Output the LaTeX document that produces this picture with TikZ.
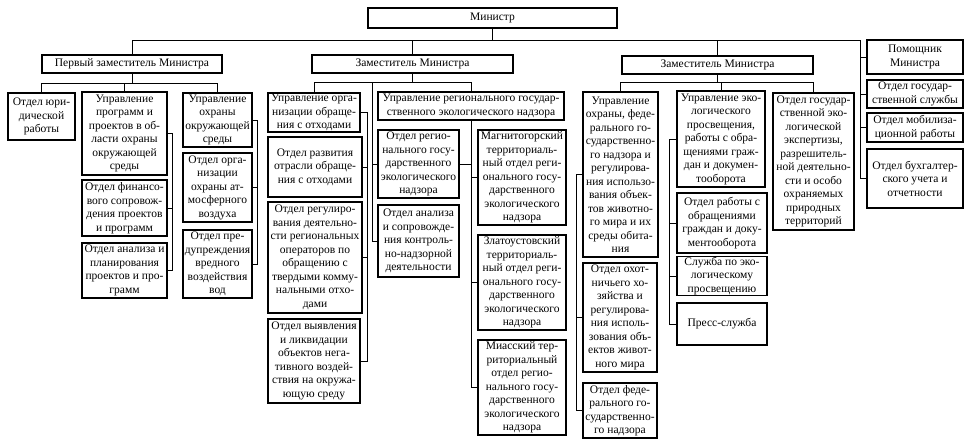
\documentclass[tikz,border=0pt]{standalone}
\usepackage{fontspec}
\setmainfont{Liberation Serif}
\usetikzlibrary{positioning, calc}

% box from its corners (in pixels of the page): name, x1, y1, x2, y2, text
\newcommand{\orgbox}[6]{%
  \node[box, minimum width={(#4-#2)*0.025cm}, minimum height={(#5-#3)*0.025cm}]
    (#1) at ({(#2+#4)/2},{(#3+#5)/2}) {#6};}

\begin{document}
\begin{tikzpicture}[
    x=0.025cm, y=-0.025cm,
    box/.style={rectangle, draw, line width=1pt, inner sep=0.5pt, align=center, font=\fontsize{8.2}{9.6}\selectfont},
    line/.style={line width=0.7pt},
]
\fill[white] (0,0) rectangle (972,446);
\useasboundingbox (0,0) rectangle (972,446);

% top
\orgbox{min}{368}{8}{617}{28}{Министр}
\orgbox{dep1}{42}{55}{222}{73}{Первый заместитель Министра}
\orgbox{dep2}{312}{55}{513}{73}{Заместитель Министра}
\orgbox{dep3}{622}{56}{813}{74}{Заместитель Министра}
\orgbox{asst}{867}{40}{963}{74}{Помощник\\Министра}
\orgbox{civ}{867}{80}{963}{108}{Отдел государ-\\ственной службы}
\orgbox{mob}{867}{113}{963}{142}{Отдел мобилиза-\\ционной работы}
\orgbox{acc}{867}{149}{963}{208}{Отдел бухгалтер-\\ского учета и\\отчетности}

% first deputy
\orgbox{law}{8}{93}{75}{140}{Отдел юри-\\дической\\работы}
\orgbox{prog}{82}{92}{167}{175}{Управление\\программ и\\проектов в об-\\ласти охраны\\окружающей\\среды}
\orgbox{fin}{82}{180}{167}{236}{Отдел финансо-\\вого сопровож-\\дения проектов\\и программ}
\orgbox{plan}{82}{243}{167}{298}{Отдел анализа и\\планирования\\проектов и про-\\грамм}
\orgbox{env}{183}{93}{252}{147}{Управление\\охраны\\окружающей\\среды}
\orgbox{air}{183}{153}{252}{222}{Отдел орга-\\низации\\охраны ат-\\мосферного\\воздуха}
\orgbox{wat}{183}{230}{252}{298}{Отдел пре-\\дупреждения\\вредного\\воздействия\\вод}

% second deputy
\orgbox{waste}{268}{93}{360}{132}{Управление орга-\\низации обраще-\\ния с отходами}
\orgbox{wdev}{268}{137}{362}{197}{Отдел развития\\отрасли обраще-\\ния с отходами}
\orgbox{wreg}{268}{202}{362}{313}{Отдел регулиро-\\вания деятельно-\\сти региональных\\операторов по\\обращению с\\твердыми комму-\\нальными отхо-\\дами}
\orgbox{wneg}{268}{319}{360}{403}{Отдел выявления\\и ликвидации\\объектов нега-\\тивного воздей-\\ствия на окружа-\\ющую среду}
\orgbox{rnad}{378}{92}{564}{120}{Управление регионального государ-\\ственного экологического надзора}
\orgbox{rdep}{378}{130}{459}{198}{Отдел регио-\\нального госу-\\дарственного\\экологического\\надзора}
\orgbox{ranl}{378}{205}{459}{277}{Отдел анализа\\и сопровожде-\\ния контроль-\\но-надзорной\\деятельности}
\orgbox{mgn}{478}{130}{566}{225}{Магнитогорский\\территориаль-\\ный отдел реги-\\онального госу-\\дарственного\\экологического\\надзора}
\orgbox{zlt}{478}{235}{566}{330}{Златоустовский\\территориаль-\\ный отдел реги-\\онального госу-\\дарственного\\экологического\\надзора}
\orgbox{mia}{478}{340}{566}{435}{Миасский тер-\\риториальный\\отдел регио-\\нального госу-\\дарственного\\экологического\\надзора}

% third deputy
\orgbox{fauna}{583}{92}{658}{257}{Управление\\охраны, феде-\\рального го-\\сударственно-\\го надзора и\\регулирова-\\ния использо-\\вания объек-\\тов животно-\\го мира и их\\среды обита-\\ния}
\orgbox{hunt}{583}{263}{657}{372}{Отдел охот-\\ничьего хо-\\зяйства и\\регулирова-\\ния исполь-\\зования объ-\\ектов живот-\\ного мира}
\orgbox{fnad}{583}{383}{657}{438}{Отдел феде-\\рального го-\\сударственно-\\го надзора}
\orgbox{edu}{677}{91}{765}{187}{Управление эко-\\логического\\просвещения,\\работы с обра-\\щениями граж-\\дан и докумен-\\тооборота}
\orgbox{cit}{677}{193}{767}{253}{Отдел работы с\\обращениями\\граждан и доку-\\ментооборота}
\orgbox{svc}{677}{257}{767}{295}{Служба по эко-\\логическому\\просвещению}
\orgbox{prs}{677}{303}{767}{345}{Пресс-служба}
\orgbox{expt}{773}{93}{854}{230}{Отдел государ-\\ственной эко-\\логической\\экспертизы,\\разрешитель-\\ной деятельно-\\сти и особо\\охраняемых\\природных\\территорий}

% top bar
\coordinate (t0) at (0,40);
\coordinate (av) at (860,40);
\draw[line] (dep1.north) -- (dep1.north |- t0) -- (av) |- (acc.west);
\foreach \n in {min.south, dep2.north, dep3.north} {
    \draw[line] (\n) -- (\n |- t0);
}
\foreach \n in {asst, civ, mob} {
    \draw[line] (\n.west) -- (\n.west -| av);
}

% first deputy
\coordinate (t1) at (0,83);
\draw[line] (law.north) -- (law.north |- t1) -- (env.north |- t1) -- (env.north);
\foreach \n in {dep1.south, prog.north} {
    \draw[line] (\n) -- (\n |- t1);
}
\draw[line] (prog.east) -- ++(5,0) coordinate (k1) |- (plan.east);
\draw[line] (fin.east) -- (fin.east -| k1);
\draw[line] (env.east) -- ++(5,0) coordinate (k2) |- (wat.east);
\draw[line] (air.east) -- (air.east -| k2);

% second deputy
\coordinate (t2) at (0,82);
\draw[line] (waste.north) -- (waste.north |- t2) -- (rnad.north |- t2) -- (rnad.north);
\draw[line] (dep2.south) -- (dep2.south |- t2);
\draw[line] (ranl.west) -- ++(-5,0) coordinate (k3) -- (k3 |- t2);
\draw[line] (rdep.west) -- (rdep.west -| k3);
\draw[line] (waste.east) -- ++(7,0) coordinate (k4) |- (wneg.east);
\foreach \n in {wdev, wreg} {
    \draw[line] (\n.east) -- (\n.east -| k4);
}
\draw[line] (rnad.south) -- (rnad.south |- mia.west) -- (mia.west);
\foreach \n in {rdep.east, mgn.west, zlt.west} {
    \draw[line] (\n) -- (\n -| rnad.south);
}

% third deputy
\coordinate (t3) at (0,82);
\draw[line] (fauna.north) -- (fauna.north |- t3) -- (expt.north |- t3) -- (expt.north);
\foreach \n in {dep3.south, edu.north} {
    \draw[line] (\n) -- (\n |- t3);
}
\draw[line] (fauna.west) -- ++(-6,0) coordinate (k5) |- (fnad.west);
\draw[line] (hunt.west) -- (hunt.west -| k5);
\draw[line] (edu.west) -- ++(-7,0) coordinate (k6) |- (prs.west);
\foreach \n in {cit, svc} {
    \draw[line] (\n.west) -- (\n.west -| k6);
}

\end{tikzpicture}
\end{document}
